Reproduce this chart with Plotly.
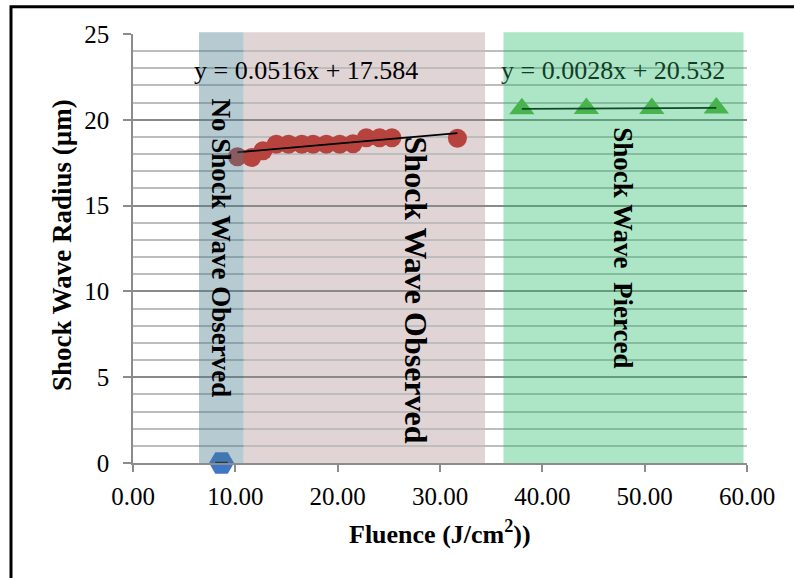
import plotly.graph_objects as go

# Fluence (J/cm^2) and shock-wave radius (µm) for each regime
none_fluence = [8.65]
none_radius = [0.0]

observed_fluence = [10.2, 11.6, 12.7, 14.0, 15.2, 16.5, 17.6, 18.9, 20.2, 21.5, 22.8, 24.1, 25.3, 31.7]
observed_radius = [17.85, 17.8, 18.2, 18.57, 18.57, 18.57, 18.57, 18.57, 18.57, 18.6, 18.95, 18.95, 18.95, 18.92]

pierced_fluence = [38.0, 44.3, 50.7, 57.0]
pierced_radius = [20.65, 20.66, 20.66, 20.69]

# Linear fits (slope, intercept)
observed_fit = (0.0516, 17.584)
pierced_fit = (0.0028, 20.532)

# Regime bands along the fluence axis
band_names = ["No Shock Wave Observed", "Shock Wave Observed", "Shock Wave\u00a0\u00a0Pierced"]
band_start = [6.45, 10.8, 36.2]
band_end = [10.8, 34.4, 59.66]

x_tick_vals = [0, 10, 20, 30, 40, 50, 60]
x_tick_text = ["0.00", "10.00", "20.00", "30.00", "40.00", "50.00", "60.00"]
y_tick_vals = [0, 5, 10, 15, 20, 25]

SERIF = "Liberation Serif, Times New Roman, serif"


def fit_line(fluence, fit):
    slope, intercept = fit
    xs = [min(fluence), max(fluence)]
    return xs, [slope * x + intercept for x in xs]


def equation(fit):
    slope, intercept = fit
    return f"y = {slope:.4f}x + {intercept:.3f}"


fig = go.Figure()

fig.add_trace(go.Scatter(
    x=none_fluence, y=none_radius, mode="markers", cliponaxis=False,
    marker=dict(symbol="hexagon2", size=25, color="#3F76C8"),
    showlegend=False))
fig.add_trace(go.Scatter(
    x=none_fluence, y=none_radius, mode="markers", cliponaxis=False,
    marker=dict(symbol="line-ew", size=9, line=dict(width=2.5, color="#111111")),
    showlegend=False))

fig.add_trace(go.Scatter(
    x=observed_fluence, y=observed_radius, mode="markers",
    marker=dict(symbol="circle", size=19, color="#B7433E"),
    showlegend=False))
ox, oy = fit_line(observed_fluence, observed_fit)
fig.add_trace(go.Scatter(x=ox, y=oy, mode="lines",
                         line=dict(color="black", width=1.8), showlegend=False))

fig.add_trace(go.Scatter(
    x=pierced_fluence, y=pierced_radius, mode="markers",
    marker=dict(symbol="triangle-up", size=22, color="#5BAE3C"),
    showlegend=False))
px_, py_ = fit_line(pierced_fluence, pierced_fit)
fig.add_trace(go.Scatter(x=px_, y=py_, mode="lines",
                         line=dict(color="black", width=1.8), showlegend=False))

# Regime bands: the middle one sits under the grid, the outer ones tint what is beneath
band_style = [
    dict(fillcolor="rgba(72,122,142,0.40)", layer="above"),
    dict(fillcolor="rgb(224,212,213)", layer="below"),
    dict(fillcolor="rgba(40,190,105,0.38)", layer="above"),
]
for x0, x1, st in zip(band_start, band_end, band_style):
    fig.add_shape(type="rect", xref="x", yref="paper", x0=x0, x1=x1, y0=0, y1=1.004,
                  line=dict(width=0), **st)

# Outer frame of the chart area
fig.add_shape(type="rect", xref="paper", yref="paper",
              x0=-0.1987, x1=1.3, y0=-0.4, y1=1.0636,
              line=dict(color="black", width=3), fillcolor="rgba(0,0,0,0)", layer="above")

# Band labels, written top to bottom
label_pos = [(8.6, 12.56, 27), (27.7, 10.08, 32), (47.8, 12.56, 27)]
for name, (lx, ly, size) in zip(band_names, label_pos):
    fig.add_annotation(x=lx, y=ly, text=f"<b>{name}</b>", textangle=90, showarrow=False,
                       xanchor="center", yanchor="middle",
                       font=dict(family=SERIF, size=size, color="black"))

# Fit equations
fig.add_annotation(x=16.9, y=22.9, text=equation(observed_fit), showarrow=False,
                   xanchor="center", yanchor="middle",
                   font=dict(family=SERIF, size=26, color="black"))
fig.add_annotation(x=46.9, y=22.9, text=equation(pierced_fit), showarrow=False,
                   xanchor="center", yanchor="middle",
                   font=dict(family=SERIF, size=26, color="#123d26"))

# Axis titles
fig.add_annotation(xref="paper", yref="paper", x=0.5, y=-0.163,
                   xanchor="center", yanchor="middle",
                   text="<b>Fluence (J/cm<sup>2</sup>))</b>", showarrow=False,
                   font=dict(family=SERIF, size=26, color="black"))
fig.add_annotation(xref="paper", yref="paper", x=-0.1156, y=0.508, textangle=-90,
                   xanchor="center", yanchor="middle",
                   text="<b>Shock Wave Radius (µm)</b>", showarrow=False,
                   font=dict(family=SERIF, size=27, color="black"))

fig.update_xaxes(
    range=[0, 60], tickvals=x_tick_vals, ticktext=x_tick_text,
    showgrid=False, zeroline=False, showline=True, linecolor="#8c8c8c", linewidth=1.5,
    ticks="outside", ticklen=7, tickcolor="#8c8c8c", tickwidth=1.5,
    ticklabelstandoff=3,
    tickfont=dict(family=SERIF, size=25, color="black"))
fig.update_yaxes(
    range=[0, 25], tickvals=y_tick_vals,
    showgrid=True, gridcolor="#8a8a8a", gridwidth=1.5,
    minor=dict(dtick=1, showgrid=True, gridcolor="#bdbdbd", gridwidth=1.5),
    zeroline=False, showline=True, linecolor="#8c8c8c", linewidth=1.5,
    ticks="outside", ticklen=8, tickcolor="#8c8c8c", tickwidth=1.5,
    ticklabelstandoff=9,
    tickfont=dict(family=SERIF, size=25, color="black"))

fig.update_layout(
    width=794, height=578,
    margin=dict(l=133, r=47, t=34, b=115),
    paper_bgcolor="white", plot_bgcolor="white",
    showlegend=False,
)

fig.write_html("out.html")
